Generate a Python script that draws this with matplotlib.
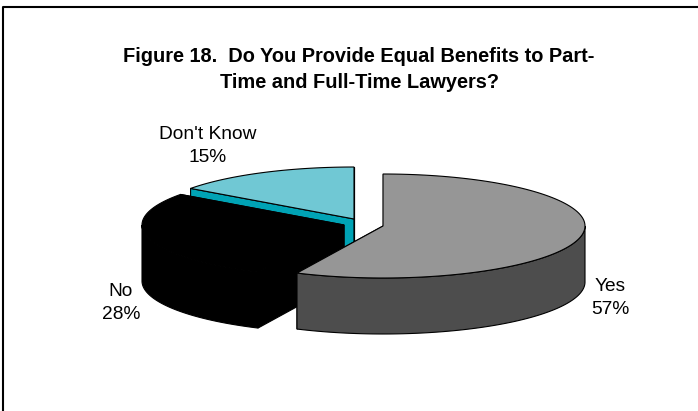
import numpy as np
import matplotlib
matplotlib.use("Agg")
import matplotlib.pyplot as plt
from matplotlib.patches import Polygon

plt.rcParams["font.family"] = ["Liberation Sans", "DejaVu Sans"]

labels = ["Yes", "No", "Don't Know"]
values = [57, 28, 15]
top_colors = ["#969696", "#000000", "#70c8d4"]
side_colors = ["#4d4d4d", "#000000", "#00a3b5"]
# apex of each exploded slice, in pixels
centers = [(383, 226), (344, 225), (354, 219)]
label_pos = [(610, 298), (121, 303), (208, 146)]

RX, RY, DEPTH = 202, 52, 56
W, H = 698, 411

fig = plt.figure(figsize=(W / 100, H / 100), dpi=100)
ax = fig.add_axes([0, 0, 1, 1])
ax.set_xlim(0, W)
ax.set_ylim(H, 0)
ax.axis("off")

# outer frame of the chart
ax.plot([2.5, 2.5, 698], [H, 7.5, 7.5], color="black", lw=1.5)

ax.text(359, 69.5, "Figure 18.  Do You Provide Equal Benefits to Part-\nTime and Full-Time Lawyers?",
        ha="center", va="center", fontsize=14.4, fontweight="bold", linespacing=1.46)


def arc_points(cx, cy, a0, a1):
    # angles clockwise from the top
    t = np.radians(np.linspace(a0, a1, 120))
    return np.column_stack([cx + RX * np.sin(t), cy - RY * np.cos(t)])


edges = np.cumsum([0] + values) * 3.6
# draw back to front: Don't Know, No, Yes
for i in [2, 1, 0]:
    a0, a1 = edges[i], edges[i + 1]
    cx, cy = centers[i]
    arc = arc_points(cx, cy, a0, a1)
    apex = np.array([[cx, cy]])
    shift = np.array([0, DEPTH])

    # cut faces
    for p in (arc[0], arc[-1]):
        face = np.array([apex[0], p, p + shift, apex[0] + shift])
        ax.add_patch(Polygon(face, fc=side_colors[i], ec="black", lw=0.8))
    # outer wall, only the front half of the rim shows
    front = np.radians(np.linspace(max(a0, 90), min(a1, 270), 120))
    if a0 < 270 and a1 > 90:
        rim = np.column_stack([cx + RX * np.sin(front), cy - RY * np.cos(front)])
        wall = np.vstack([rim, rim[::-1] + shift])
        ax.add_patch(Polygon(wall, fc=side_colors[i], ec="black", lw=0.8))
    ax.add_patch(Polygon(np.vstack([apex, arc]), fc=top_colors[i], ec="black", lw=0.8))

for name, v, (x, y) in zip(labels, values, label_pos):
    ax.text(x, y, f"{name}\n{v}%", ha="center", va="center", fontsize=13.8, linespacing=1.5)

fig.savefig("out.png", dpi=100)
